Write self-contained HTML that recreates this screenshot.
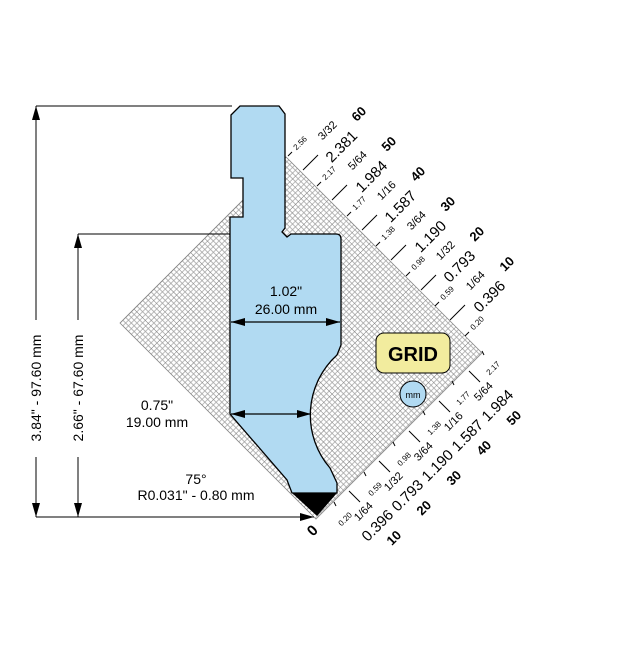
<!DOCTYPE html>
<html><head><meta charset="utf-8"><style>
html,body{margin:0;padding:0;background:#fff;}
svg{display:block;font-family:"Liberation Sans",sans-serif;}
</style></head><body>
<svg width="627" height="648" viewBox="0 0 627 648" xmlns="http://www.w3.org/2000/svg">
<defs>
<pattern id="g" width="20" height="20" patternUnits="userSpaceOnUse" patternTransform="translate(120,323) rotate(45)">
<path d="M0 4H20M0 8H20M0 12H20M0 16H20M4 0V20M8 0V20M12 0V20M16 0V20" stroke="#a0a0a0" stroke-width="0.7" fill="none"/>
<path d="M0 0H20M0 0V20" stroke="#777" stroke-width="1" fill="none"/>
</pattern>
<marker id="b" viewBox="0 0 14 8" refX="14" refY="4" markerWidth="14" markerHeight="8" orient="auto-start-reverse" markerUnits="userSpaceOnUse"><path d="M0 0L14 4L0 8z" fill="#000"/></marker>
</defs>
<polygon points="120,323 286,157 482,353 316,519" fill="#fff"/>
<polygon points="120,323 286,157 482,353 316,519" fill="url(#g)" stroke="#888" stroke-width="0.8"/>

<g stroke="#000" stroke-width="1" fill="none">
<line x1="36" y1="106" x2="232" y2="106"/>
<line x1="78" y1="234" x2="231" y2="234"/>
<line x1="36" y1="517" x2="300" y2="517"/>
<line x1="36" y1="106" x2="36" y2="320" marker-start="url(#b)"/>
<line x1="36" y1="457" x2="36" y2="517" marker-end="url(#b)"/>
<line x1="78" y1="234" x2="78" y2="320" marker-start="url(#b)"/>
<line x1="78" y1="457" x2="78" y2="517" marker-end="url(#b)"/>
<line x1="280" y1="517" x2="314" y2="517" marker-end="url(#b)"/>
</g>
<text transform="translate(41,388) rotate(-90)" font-size="14" text-anchor="middle">3.84" - 97.60 mm</text>
<text transform="translate(83,388) rotate(-90)" font-size="14" text-anchor="middle">2.66" - 67.60 mm</text>

<path d="M231,115 L240,106 L279,106 L285,114 L285,228 L282,232 L287,237 L291,234 L336,234 Q341,234 341,239 L341,345 L337,355 A81,81 0 0 0 330,468 L337,483 L337,493 L292,493 L287,480 L230,414 L230,217 L243,217 L243,178 L231,178 Z" fill="#b1daf2" stroke="#000" stroke-width="1.3"/>
<path d="M292,493 L337,493 L317,516 Z" fill="#000"/>

<g stroke="#000" stroke-width="1.2">
<line x1="231" y1="322" x2="340" y2="322" marker-start="url(#b)" marker-end="url(#b)"/>
<line x1="231" y1="414" x2="311" y2="414" marker-start="url(#b)" marker-end="url(#b)"/>
</g>
<text x="286" y="296" font-size="14" text-anchor="middle">1.02"</text>
<text x="286" y="314" font-size="14" text-anchor="middle">26.00 mm</text>
<text x="157" y="410" font-size="14" text-anchor="middle">0.75"</text>
<text x="157" y="427" font-size="14" text-anchor="middle">19.00 mm</text>
<text x="196" y="484" font-size="14" text-anchor="middle">75°</text>
<text x="196" y="500" font-size="14" text-anchor="middle">R0.031" - 0.80 mm</text>

<rect x="376" y="333" width="74" height="40" rx="8" fill="#f2ec9e" stroke="#000" stroke-width="1"/>
<text x="413" y="361" font-size="20" font-weight="bold" text-anchor="middle">GRID</text>
<circle cx="413" cy="394" r="13" fill="#b1daf2" stroke="#000" stroke-width="1"/>
<text x="413" y="398" font-size="9" text-anchor="middle">mm</text>

<text transform="translate(316,534) rotate(-45)" font-size="15" font-weight="bold" text-anchor="middle">0</text>

<g font-size="8" text-anchor="middle">
<text transform="translate(302,145) rotate(-45)">2.56</text>
<text transform="translate(331,175) rotate(-45)">2.17</text>
<text transform="translate(361,205) rotate(-45)">1.77</text>
<text transform="translate(390,235) rotate(-45)">1.38</text>
<text transform="translate(420,265) rotate(-45)">0.98</text>
<text transform="translate(449,295) rotate(-45)">0.59</text>
<text transform="translate(479,325) rotate(-45)">0.20</text>
</g>
<g stroke="#000" stroke-width="1">
<line x1="288" y1="156" x2="292" y2="152"/><line x1="317" y1="186" x2="321" y2="182"/><line x1="347" y1="216" x2="351" y2="212"/><line x1="376" y1="246" x2="380" y2="242"/><line x1="406" y1="276" x2="410" y2="272"/><line x1="435" y1="306" x2="439" y2="302"/><line x1="465" y1="336" x2="469" y2="332"/>
<line x1="303" y1="170" x2="318" y2="155"/><line x1="332" y1="200" x2="347" y2="185"/><line x1="362" y1="230" x2="377" y2="215"/><line x1="391" y1="260" x2="406" y2="245"/><line x1="421" y1="290" x2="436" y2="275"/><line x1="450" y1="320" x2="465" y2="305"/>
</g>
<g text-anchor="middle">
<g font-size="11">
<text transform="translate(330,133) rotate(-45)">3/32</text>
<text transform="translate(360,163) rotate(-45)">5/64</text>
<text transform="translate(389,193) rotate(-45)">1/16</text>
<text transform="translate(419,223) rotate(-45)">3/64</text>
<text transform="translate(448,253) rotate(-45)">1/32</text>
<text transform="translate(478,283) rotate(-45)">1/64</text>
</g>
<g font-size="15">
<text transform="translate(345,150) rotate(-45)">2.381</text>
<text transform="translate(375,180) rotate(-45)">1.984</text>
<text transform="translate(404,210) rotate(-45)">1.587</text>
<text transform="translate(434,240) rotate(-45)">1.190</text>
<text transform="translate(463,270) rotate(-45)">0.793</text>
<text transform="translate(493,300) rotate(-45)">0.396</text>
</g>
<g font-size="13" font-weight="bold">
<text transform="translate(362,117) rotate(-45)">60</text>
<text transform="translate(392,147) rotate(-45)">50</text>
<text transform="translate(421,177) rotate(-45)">40</text>
<text transform="translate(451,207) rotate(-45)">30</text>
<text transform="translate(480,237) rotate(-45)">20</text>
<text transform="translate(510,267) rotate(-45)">10</text>
</g>
</g>

<g font-size="8" text-anchor="middle">
<text transform="translate(347,521) rotate(-45)">0.20</text>
<text transform="translate(377,491) rotate(-45)">0.59</text>
<text transform="translate(406,461) rotate(-45)">0.98</text>
<text transform="translate(436,430) rotate(-45)">1.38</text>
<text transform="translate(465,400) rotate(-45)">1.77</text>
<text transform="translate(495,370) rotate(-45)">2.17</text>
</g>
<g stroke="#000" stroke-width="1">
<line x1="334" y1="502" x2="336" y2="506"/><line x1="364" y1="472" x2="366" y2="476"/><line x1="393" y1="442" x2="395" y2="446"/><line x1="423" y1="411" x2="425" y2="415"/><line x1="452" y1="381" x2="454" y2="385"/><line x1="482" y1="351" x2="484" y2="355"/>
<line x1="349" y1="491" x2="360" y2="502"/><line x1="379" y1="461" x2="390" y2="472"/><line x1="409" y1="431" x2="420" y2="442"/><line x1="439" y1="401" x2="450" y2="412"/><line x1="469" y1="371" x2="480" y2="382"/>
</g>
<g text-anchor="middle">
<g font-size="11">
<text transform="translate(366,514) rotate(-45)">1/64</text>
<text transform="translate(396,484) rotate(-45)">1/32</text>
<text transform="translate(426,454) rotate(-45)">3/64</text>
<text transform="translate(456,424) rotate(-45)">1/16</text>
<text transform="translate(486,394) rotate(-45)">5/64</text>
</g>
<g font-size="15">
<text transform="translate(381,529) rotate(-45)">0.396</text>
<text transform="translate(411,499) rotate(-45)">0.793</text>
<text transform="translate(441,469) rotate(-45)">1.190</text>
<text transform="translate(471,439) rotate(-45)">1.587</text>
<text transform="translate(501,409) rotate(-45)">1.984</text>
</g>
<g font-size="13" font-weight="bold">
<text transform="translate(397,541) rotate(-45)">10</text>
<text transform="translate(427,511) rotate(-45)">20</text>
<text transform="translate(457,481) rotate(-45)">30</text>
<text transform="translate(487,451) rotate(-45)">40</text>
<text transform="translate(517,421) rotate(-45)">50</text>
</g>
</g>
</svg>
</body></html>
